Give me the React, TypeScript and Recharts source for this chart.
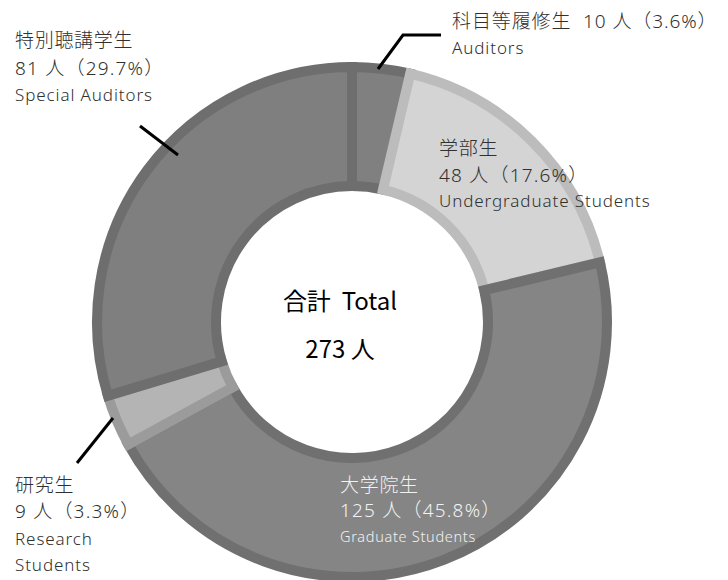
import React from 'react'
import { PieChart, Pie, Cell } from 'recharts'

const names = ['科目等履修生', '学部生', '大学院生', '研究生', '特別聴講学生']
const englishNames = ['Auditors', 'Undergraduate Students', 'Graduate Students', 'Research Students', 'Special Auditors']
const counts = [10, 48, 125, 9, 81]
const percents = ['3.6', '17.6', '45.8', '3.3', '29.7']
const total = 273

const FILLS = ['#808080', '#d4d4d4', '#858585', '#b4b4b4', '#7f7f7f']
const STROKES = ['#6e6e6e', '#bcbcbc', '#707070', '#9b9b9b', '#6e6e6e']

const FONT = '"Noto Sans", "Noto Sans CJK JP", sans-serif'
const CJK = '"Noto Sans CJK JP", sans-serif'
const TEXT = '#303030'

const data = names.map((name, i) => ({ name, value: counts[i] }))

function renderLabel(props: any) {
  const i = props.index
  const cnt = `${counts[i]} 人（${percents[i]}%）`
  const t = (x: number, y: number, s: string, size: number, ls: number, fill = TEXT) => (
    <text x={x} y={y} fontSize={size} fill={fill} fontFamily={FONT} fontWeight={300}
      letterSpacing={ls} style={{ whiteSpace: 'pre' }}>{s}</text>
  )
  if (i === 0) {
    return (
      <g key="l0">
        <polyline points="378,69 403,35 441,35" fill="none" stroke="#000" strokeWidth={3} />
        {t(452, 28, `${names[i]}  ${cnt}`, 19, 0.9)}
        {t(452, 54, englishNames[i], 17, 0.9)}
      </g>
    )
  }
  if (i === 1) {
    return (
      <g key="l1">
        {t(439, 155, names[i], 19, 0.7)}
        {t(439, 182, cnt, 19, 1.2)}
        {t(439, 207, englishNames[i], 17, 0.9)}
      </g>
    )
  }
  if (i === 2) {
    return (
      <g key="l2">
        {t(340, 492, names[i], 19, 0.7, '#f2f2f2')}
        {t(340, 517, cnt, 19, 1.2, '#f2f2f2')}
        {t(340, 542, englishNames[i], 14.5, 0.7, '#f2f2f2')}
      </g>
    )
  }
  if (i === 3) {
    const [w1, w2] = englishNames[i].split(' ')
    return (
      <g key="l3">
        <line x1={113} y1={418} x2={77} y2={463} stroke="#000" strokeWidth={3} />
        {t(15, 492, names[i], 19, 0.7)}
        {t(15, 518, cnt, 19, 1.2)}
        {t(15, 545, w1, 17, 0.9)}
        {t(15, 571, w2, 17, 0.9)}
      </g>
    )
  }
  return (
    <g key="l4">
      <line x1={140} y1={126} x2={178} y2={155} stroke="#000" strokeWidth={3} />
      {t(15, 47, names[i], 19, 0.7)}
      {t(15, 75, cnt, 19, 1.2)}
      {t(15, 101, englishNames[i], 17, 0.9)}
    </g>
  )
}

export default function App() {
  return (
    <div style={{ position: 'absolute', left: 0, top: 0, width: 728, height: 580, background: '#fff' }}>
      <PieChart width={728} height={580}>
        <Pie
          data={data}
          dataKey="value"
          cx={347}
          cy={317}
          innerRadius={136}
          outerRadius={255}
          startAngle={90}
          endAngle={-270}
          strokeWidth={10}
          labelLine={false}
          label={renderLabel}
          isAnimationActive={false}
        >
          {data.map((entry, index) => (
            <Cell key={`cell-${index}`} fill={FILLS[index]} stroke={STROKES[index]} />
          ))}
        </Pie>
        <text x={340} y={310} textAnchor="middle" fontSize={24} fill="#000" fontFamily={CJK}
          style={{ whiteSpace: 'pre' }}>合計  Total</text>
        <text x={340} y={358} textAnchor="middle" fontSize={24} fill="#000" fontFamily={CJK}>{`${total} 人`}</text>
      </PieChart>
    </div>
  )
}
